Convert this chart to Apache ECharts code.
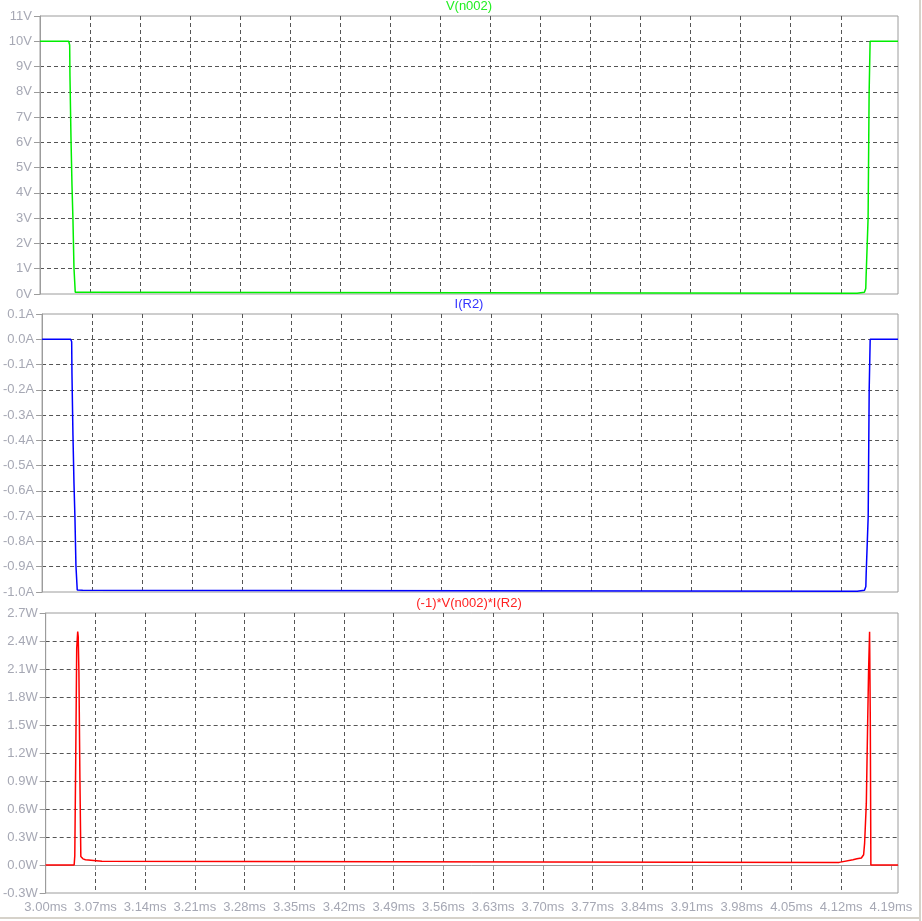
<!DOCTYPE html>
<html><head><meta charset="utf-8">
<script src="https://cdn.jsdelivr.net/npm/echarts@6/dist/echarts.min.js"></script>
<style>html,body{margin:0;padding:0;background:#fff}#c{width:922px;height:921px}</style>
</head><body><div id="c"></div>
<script>
// ---- text / axes ----
const paneTitles = ['V(n002)', 'I(R2)', '(-1)*V(n002)*I(R2)'];
const paneUnits = ['V', 'A', 'W'];
const timeRange = [3.00, 4.20];          // ms
const timeStep = 0.07;                   // ms
const timeTicks = [3.00,3.07,3.14,3.21,3.28,3.35,3.42,3.49,3.56,3.63,3.70,3.77,3.84,3.91,3.98,4.05,4.12,4.19];
const vAxis = [0, 11, 1];
const iAxis = [-1.0, 0.1, 0.1];
const pAxis = [-0.3, 2.7, 0.3];

// ---- V(n002) ----
const vTime   = [3.0000, 3.0401, 3.0415, 3.0419, 3.0433, 3.0447, 3.0461, 3.0475, 3.0493, 3.0569, 3.0573,
                 4.1428, 4.1433, 4.1530, 4.1535, 4.1549, 4.1554, 4.1568, 4.1582, 4.1596, 4.1610, 4.2000];
const vValues = [10.0, 10.0, 9.85, 8.63, 6.22, 4.34, 2.93, 1.04, 0.07, 0.07, 0.03,
                 0.03, 0.07, 0.07, 0.13, 0.22, 0.71, 1.85, 3.03, 7.94, 10.0, 10.0];

// ---- I(R2) ----
const iTime   = [3.0000, 3.0401, 3.0415, 3.0419, 3.0433, 3.0447, 3.0461, 3.0475, 3.0493, 3.0569, 3.0573,
                 4.1428, 4.1433, 4.1530, 4.1535, 4.1549, 4.1554, 4.1568, 4.1582, 4.1596, 4.1610, 4.2000];
const iValues = [0.0, 0.0, -0.01, -0.135, -0.379, -0.567, -0.708, -0.897, -0.992, -0.993, -0.997,
                 -0.997, -0.993, -0.993, -0.987, -0.978, -0.926, -0.814, -0.702, -0.20, 0.0, 0.0];

// ---- (-1)*V(n002)*I(R2) ----
const pTime   = [3.0000, 3.0401, 3.0410, 3.0423, 3.0437, 3.0451, 3.0458, 3.0468, 3.0482, 3.0495, 3.0510,
                 3.0525, 3.0560, 3.0565, 3.0792, 3.0797, 4.1171, 4.1176, 4.1366, 4.1422, 4.1484, 4.1516,
                 4.1530, 4.1554, 4.1572, 4.1586, 4.1600, 4.1610, 4.1618, 4.2000];
const pValues = [0.0, 0.0, 0.10, 1.13, 2.32, 2.50, 2.45, 2.07, 0.93, 0.09, 0.075,
                 0.066, 0.057, 0.039, 0.039, 0.028, 0.028, 0.046, 0.057, 0.066, 0.075, 0.11,
                 0.235, 0.66, 1.49, 2.09, 2.50, 1.55, 0.0, 0.0];

const colors = ['#00ee00', '#0000ff', '#ff0000'];
const titleColors = ['#22ee22', '#3333ff', '#ff2222'];
const labelColor = '#a6a8b4';
const gridColor = '#555555';
const borderColor = '#9c9c9c';

const panes = [
  {top: 16, height: 278, axis: vAxis, dec: 0, t: vTime, v: vValues},
  {top: 314, height: 278, axis: iAxis, dec: 1, t: iTime, v: iValues},
  {top: 613, height: 280, axis: pAxis, dec: 1, t: pTime, v: pValues}
];

function fmt(v, dec, unit) {
  let r = Math.round(v * 1000) / 1000;
  if (Math.abs(r) < 1e-9) r = 0;
  return r.toFixed(dec) + unit;
}

const option = {
  animation: false,
  backgroundColor: '#ffffff',
  title: panes.map((p, k) => ({
    text: paneTitles[k],
    left: 469, top: [0, 298, 597][k], padding: 0,
    textAlign: 'center',
    textStyle: {color: titleColors[k], fontSize: 13, fontWeight: 'normal', fontFamily: 'Liberation Sans, Arial, sans-serif'}
  })),
  grid: panes.map(p => ({
    left: 40, top: p.top, width: 858, height: p.height,
    show: true, borderColor: borderColor, borderWidth: 1, backgroundColor: 'transparent'
  })),
  xAxis: panes.map((p, k) => ({
    type: 'value', gridIndex: k,
    min: timeRange[0], max: timeRange[1], interval: timeStep,
    axisLine: {show: k === 2, lineStyle: {color: borderColor}},
    axisTick: {show: k === 2, length: 5, lineStyle: {color: borderColor}, customValues: timeTicks},
    axisLabel: {show: k === 2, color: labelColor, fontSize: 13, margin: 8,
      fontFamily: 'Liberation Sans, Arial, sans-serif',
      showMinLabel: true, showMaxLabel: false,
      formatter: v => v.toFixed(2) + 'ms'},
    splitLine: {show: true, showMinLine: false, showMaxLine: false,
      lineStyle: {color: gridColor, type: [4, 3], width: 1}}
  })),
  yAxis: panes.map((p, k) => ({
    type: 'value', gridIndex: k,
    min: p.axis[0], max: p.axis[1], interval: p.axis[2],
    axisLine: {show: true, lineStyle: {color: borderColor}},
    axisTick: {show: true, length: 6, lineStyle: {color: borderColor}},
    axisLabel: {color: labelColor, fontSize: 13, margin: 8,
      fontFamily: 'Liberation Sans, Arial, sans-serif',
      formatter: v => fmt(v, p.dec, paneUnits[k])},
    splitLine: {show: true, showMinLine: false, showMaxLine: false,
      lineStyle: {color: gridColor, type: [4, 3], width: 1}}
  })),
  series: panes.map((p, k) => ({
    type: 'line', xAxisIndex: k, yAxisIndex: k,
    data: p.t.map((t, i) => [t, p.v[i]]),
    showSymbol: false, symbol: 'none', clip: true,
    lineStyle: {color: colors[k], width: 1.5},
    itemStyle: {color: colors[k]}
  })),
  graphic: [
    {type: 'rect', shape: {x: 919, y: 0, width: 2, height: 921}, style: {fill: '#d6d2ca'}, silent: true},
    {type: 'rect', shape: {x: 0, y: 917, width: 921, height: 2}, style: {fill: '#d6d2ca'}, silent: true}
  ]
};

const chart = echarts.init(document.getElementById('c'), null, {renderer: 'canvas'});
chart.setOption(option);
</script>
</body></html>
